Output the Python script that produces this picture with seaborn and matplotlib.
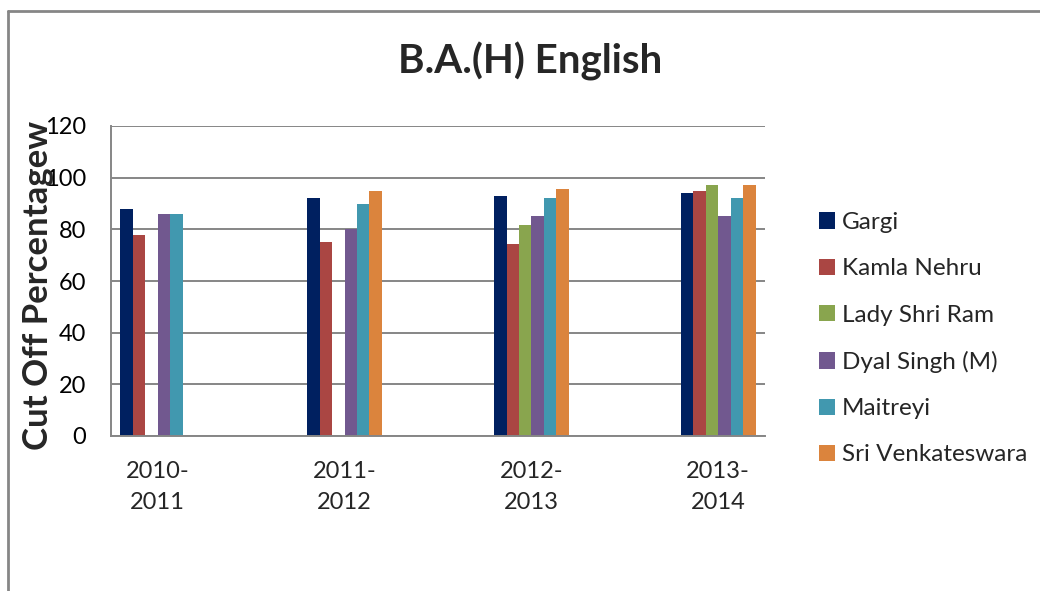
import numpy as np
import pandas as pd
import matplotlib
matplotlib.use("Agg")
import matplotlib.pyplot as plt
from matplotlib.lines import Line2D
import seaborn as sns

# data
years = ["2010-2011", "2011-2012", "2012-2013", "2013-2014"]
colleges = ["Gargi", "Kamla Nehru", "Lady Shri Ram", "Dyal Singh (M)",
            "Maitreyi", "Sri Venkateswara"]
gargi = [88, 92, 93, 94]
kamla_nehru = [78, 75, 74.3, 94.7]
lady_shri_ram = [np.nan, np.nan, 81.5, 97]
dyal_singh = [86, 80, 85, 85]
maitreyi = [86, 90, 92, 92]
sri_venkateswara = [np.nan, 95, 95.7, 97]
colors = ["#002060", "#AA4643", "#89A54E", "#71588F", "#4198AF", "#DB843D"]

series = [gargi, kamla_nehru, lady_shri_ram, dyal_singh, maitreyi, sri_venkateswara]
rows = []
for name, vals in zip(colleges, series):
    for yr, v in zip(years, vals):
        rows.append({"year": yr, "college": name, "cutoff": v})
df = pd.DataFrame(rows).dropna()

# empty categories between the years, like the excel sheet had
order = [years[0], " ", years[1], "  ", years[2], "   ", years[3]]
labels = ["2010-\n2011", "", "2011-\n2012", "", "2012-\n2013", "", "2013-\n2014"]

sns.set_style("white")
plt.rcParams['font.family'] = ['Lato', 'DejaVu Sans']

fig = plt.figure(figsize=(10.4, 5.91), dpi=100)
ax = fig.add_axes([111/1040, 1-436/591, (765-111)/1040, (436-126)/591])

sns.barplot(data=df, x="year", y="cutoff", hue="college", order=order,
            hue_order=colleges, palette=colors, width=0.8, ax=ax,
            errorbar=None, linewidth=0, saturation=1)

ax.set_ylim(0, 120)
ax.set_yticks(range(0, 121, 20))
ax.set_xlim(-0.5, 6.5)
ax.set_xticks(np.arange(-0.5, 7, 1))
ax.set_xticklabels([])
ax.set_xticks(range(7), minor=True)
ax.set_xticklabels(labels, minor=True)
for t in ax.get_xticklabels(minor=True):
    t.set_linespacing(1.6)

grey = "#868686"
ax.yaxis.grid(True, color=grey, linewidth=1.4)
ax.set_axisbelow(True)
for s in ["top", "right"]:
    ax.spines[s].set_visible(False)
for s in ["left", "bottom"]:
    ax.spines[s].set_color(grey)
    ax.spines[s].set_linewidth(1.4)
ax.tick_params(axis="both", which="major", direction="out", length=5,
               width=1.4, color=grey, labelsize=17, labelcolor="black")
ax.tick_params(axis="y", pad=13)
ax.tick_params(axis="x", which="minor", length=0, labelsize=17, pad=18)

ax.set_xlabel("")
ax.set_ylabel("Cut Off Percentagew", fontsize=25, fontweight="bold")
ax.yaxis.set_label_coords((38-111)/654, 0.485)
ax.yaxis.label.set_va("center")

fig.text(530/1040, 1-61/591, "B.A.(H) English", ha="center", va="center",
         fontsize=29, fontweight="bold")

ax.legend_.remove()
handles, lbls = ax.get_legend_handles_labels()
fig.legend(handles, lbls, loc="upper left", bbox_to_anchor=(819/1040, 1-212/591),
           frameon=False, fontsize=17.5, handlelength=0.65, handleheight=0.65,
           handletextpad=0.3, labelspacing=1.04, borderpad=0, borderaxespad=0)

# chart area border
fig.add_artist(Line2D([8/1040, 1], [1-11/591, 1-11/591], color=grey, lw=2))
fig.add_artist(Line2D([8/1040, 8/1040], [0, 1-11/591], color=grey, lw=2))

plt.savefig("out.png", dpi=100)
